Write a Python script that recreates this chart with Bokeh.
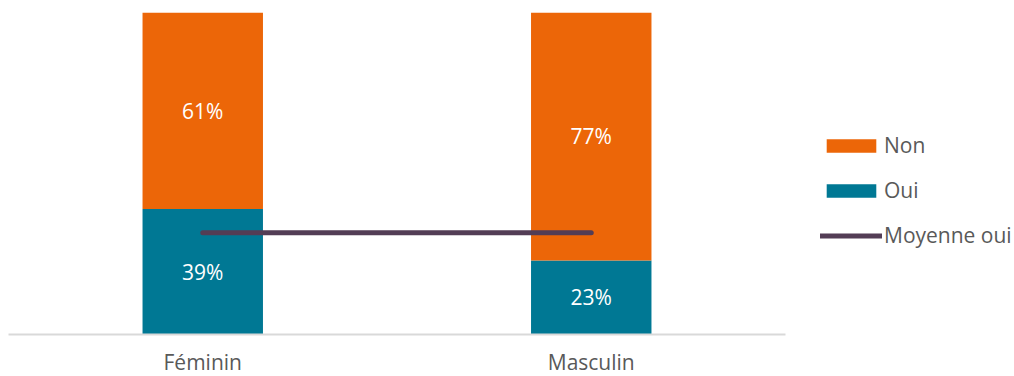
from bokeh.plotting import figure
from bokeh.models import ColumnDataSource, FactorRange, Legend, LegendItem, LabelSet
from bokeh.core.properties import value
from bokeh.embed import file_html
from bokeh.resources import INLINE

categories = ["Féminin", "Masculin"]
oui = [0.39, 0.23]
non = [0.61, 0.77]
moyenne_oui = [0.316, 0.316]
oui_labels = ["39%", "23%"]
non_labels = ["61%", "77%"]

ORANGE = "#EC6608"
TEAL = "#007894"
LINE = "#533D55"
GREY = "#595959"
FONT = "Open Sans"

src = ColumnDataSource(dict(
    cat=categories, oui=oui, non=non,
    oui_mid=[o / 2 for o in oui],
    non_mid=[o + n / 2 for o, n in zip(oui, non)],
    oui_lab=oui_labels, non_lab=non_labels,
))

p = figure(frame_width=777, frame_height=322,
           x_range=FactorRange(factors=categories, range_padding=0),
           y_range=(0, 1), output_backend="svg", toolbar_location=None,
           min_border_left=8, min_border_right=229, min_border_top=12, min_border_bottom=42)
p.outline_line_color = None
p.grid.visible = False
p.yaxis.visible = False
p.xaxis.axis_line_color = "#D9D9D9"
p.xaxis.axis_line_width = 2
p.xaxis.major_tick_line_color = None
p.xaxis.minor_tick_line_color = None
p.xaxis.major_tick_out = 0
p.xaxis.major_tick_in = 0
p.xaxis.major_label_text_font = FONT
p.xaxis.major_label_text_font_size = "21px"
p.xaxis.major_label_text_color = GREY
p.xaxis.major_label_standoff = 13

r_oui = p.vbar(x="cat", bottom=0, top="oui", width=0.31, source=src, fill_color=TEAL, line_color=None)
r_non = p.vbar(x="cat", bottom="oui", top=1, width=0.31, source=src, fill_color=ORANGE, line_color=None)
r_line = p.line(x=categories, y=moyenne_oui, line_color=LINE, line_width=5, line_cap="round")

for col, lab in (("oui_mid", "oui_lab"), ("non_mid", "non_lab")):
    p.add_layout(LabelSet(x="cat", y=col, text=lab, source=src, text_align="center",
                          text_baseline="middle", text_color="white", text_font=value(FONT),
                          text_font_size="21px"))

legend = Legend(items=[LegendItem(label="Non", renderers=[r_non]),
                       LegendItem(label="Oui", renderers=[r_oui]),
                       LegendItem(label="Moyenne oui", renderers=[r_line])],
                location=(35, 85), padding=0, margin=0, spacing=17,
                glyph_width=62, glyph_height=17, label_height=20, label_standoff=2,
                label_text_font=FONT, label_text_font_size="21px", label_text_color=GREY,
                border_line_color=None, background_fill_alpha=0)
p.add_layout(legend, "right")

open("out.html", "w").write(file_html(p, INLINE))
